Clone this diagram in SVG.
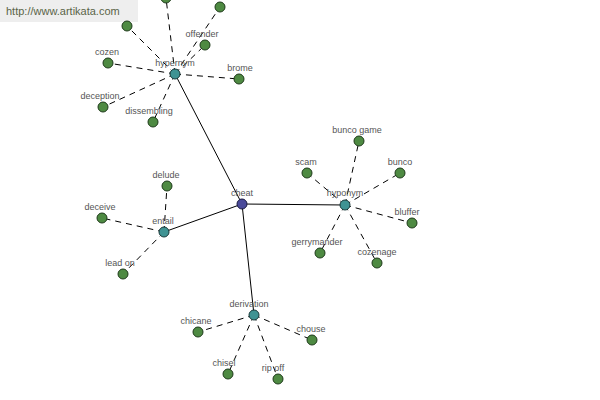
<svg xmlns="http://www.w3.org/2000/svg" width="600" height="400" viewBox="0 0 600 400">
<style>
.bg{fill:#ffffff}
.solid{stroke:#000;stroke-width:1;fill:none}
.dash{stroke:#000;stroke-width:1;fill:none;stroke-dasharray:6,5}
.leaf{fill:#4e8a42;stroke:#1e3a1a;stroke-width:1}
.hub{fill:#3f9393;stroke:#1a3a3a;stroke-width:1}
.root{fill:#4a4a9a;stroke:#1a1a40;stroke-width:1}
.lbl{font-family:"Liberation Sans",Arial,sans-serif;font-size:9px;fill:#555;text-anchor:middle}
.url{font-family:"Liberation Sans",Arial,sans-serif;font-size:11px;fill:#5a6448}
</style>
<rect class="bg" x="0" y="0" width="600" height="400"/>
<rect x="0" y="0" width="138" height="22" fill="#eeeeee"/>
<text class="url" x="6" y="15">http://www.artikata.com</text>
<g id="connectors">
<line class="solid" x1="242" y1="204" x2="175" y2="74"/>
<line class="solid" x1="242" y1="204" x2="164" y2="232"/>
<line class="solid" x1="242" y1="204" x2="345" y2="205"/>
<line class="solid" x1="242" y1="204" x2="254" y2="315"/>
<line class="dash" x1="175" y1="74" x2="166" y2="-2"/>
<line class="dash" x1="175" y1="74" x2="220" y2="7"/>
<line class="dash" x1="175" y1="74" x2="127" y2="26"/>
<line class="dash" x1="175" y1="74" x2="205" y2="45"/>
<line class="dash" x1="175" y1="74" x2="108" y2="63"/>
<line class="dash" x1="175" y1="74" x2="239" y2="79"/>
<line class="dash" x1="175" y1="74" x2="103" y2="107"/>
<line class="dash" x1="175" y1="74" x2="153" y2="122"/>
<line class="dash" x1="164" y1="232" x2="167" y2="186"/>
<line class="dash" x1="164" y1="232" x2="102" y2="218"/>
<line class="dash" x1="164" y1="232" x2="123" y2="274"/>
<line class="dash" x1="345" y1="205" x2="359" y2="141"/>
<line class="dash" x1="345" y1="205" x2="307" y2="173"/>
<line class="dash" x1="345" y1="205" x2="400" y2="173"/>
<line class="dash" x1="345" y1="205" x2="412" y2="223"/>
<line class="dash" x1="345" y1="205" x2="320" y2="253"/>
<line class="dash" x1="345" y1="205" x2="377" y2="263"/>
<line class="dash" x1="254" y1="315" x2="198" y2="332"/>
<line class="dash" x1="254" y1="315" x2="312" y2="340"/>
<line class="dash" x1="254" y1="315" x2="228" y2="374"/>
<line class="dash" x1="254" y1="315" x2="278" y2="379"/>
</g>
<g id="n-top1"><circle class="leaf" cx="166" cy="-2" r="5"/></g>
<g id="n-top2"><circle class="leaf" cx="220" cy="7" r="5"/></g>
<g id="n-top3"><circle class="leaf" cx="127" cy="26" r="5"/></g>
<g id="n-offender"><circle class="leaf" cx="205" cy="45" r="5"/><text class="lbl" x="202" y="37">offender</text></g>
<g id="n-cozen"><circle class="leaf" cx="108" cy="63" r="5"/><text class="lbl" x="107" y="55">cozen</text></g>
<g id="n-brome"><circle class="leaf" cx="239" cy="79" r="5"/><text class="lbl" x="240" y="71">brome</text></g>
<g id="n-deception"><circle class="leaf" cx="103" cy="107" r="5"/><text class="lbl" x="100" y="99">deception</text></g>
<g id="n-dissembling"><circle class="leaf" cx="153" cy="122" r="5"/><text class="lbl" x="149" y="114">dissembling</text></g>
<g id="n-hypernym"><circle class="hub" cx="175" cy="74" r="5"/><text class="lbl" x="175" y="66">hypernym</text></g>
<g id="n-cheat"><circle class="root" cx="242" cy="204" r="5"/><text class="lbl" x="242" y="196">cheat</text></g>
<g id="n-entail"><circle class="hub" cx="164" cy="232" r="5"/><text class="lbl" x="163" y="224">entail</text></g>
<g id="n-delude"><circle class="leaf" cx="167" cy="186" r="5"/><text class="lbl" x="166" y="178">delude</text></g>
<g id="n-deceive"><circle class="leaf" cx="102" cy="218" r="5"/><text class="lbl" x="100" y="210">deceive</text></g>
<g id="n-leadon"><circle class="leaf" cx="123" cy="274" r="5"/><text class="lbl" x="120" y="266">lead on</text></g>
<g id="n-hyponym"><circle class="hub" cx="345" cy="205" r="5"/><text class="lbl" x="345" y="196">hyponym</text></g>
<g id="n-buncogame"><circle class="leaf" cx="359" cy="141" r="5"/><text class="lbl" x="357" y="133">bunco game</text></g>
<g id="n-scam"><circle class="leaf" cx="307" cy="173" r="5"/><text class="lbl" x="306" y="165">scam</text></g>
<g id="n-bunco"><circle class="leaf" cx="400" cy="173" r="5"/><text class="lbl" x="400" y="165">bunco</text></g>
<g id="n-bluffer"><circle class="leaf" cx="412" cy="223" r="5"/><text class="lbl" x="407" y="215">bluffer</text></g>
<g id="n-gerrymander"><circle class="leaf" cx="320" cy="253" r="5"/><text class="lbl" x="317" y="245">gerrymander</text></g>
<g id="n-cozenage"><circle class="leaf" cx="377" cy="263" r="5"/><text class="lbl" x="377" y="255">cozenage</text></g>
<g id="n-derivation"><circle class="hub" cx="254" cy="315" r="5"/><text class="lbl" x="249" y="307">derivation</text></g>
<g id="n-chicane"><circle class="leaf" cx="198" cy="332" r="5"/><text class="lbl" x="196" y="324">chicane</text></g>
<g id="n-chouse"><circle class="leaf" cx="312" cy="340" r="5"/><text class="lbl" x="311" y="332">chouse</text></g>
<g id="n-chisel"><circle class="leaf" cx="228" cy="374" r="5"/><text class="lbl" x="224" y="366">chisel</text></g>
<g id="n-ripoff"><circle class="leaf" cx="278" cy="379" r="5"/><text class="lbl" x="273" y="371">rip off</text></g>
</svg>
